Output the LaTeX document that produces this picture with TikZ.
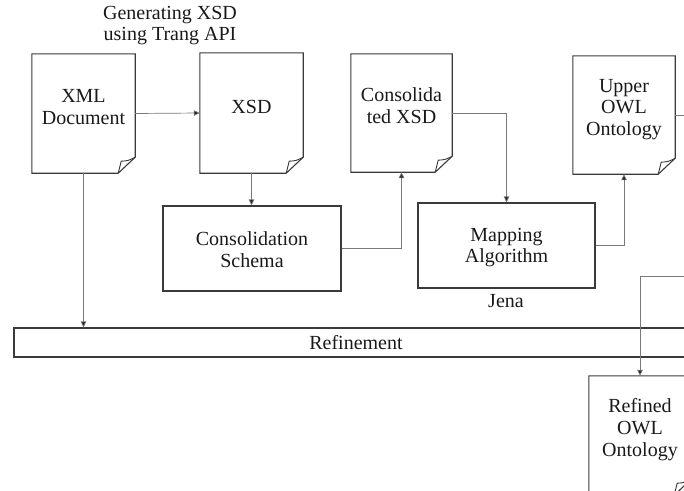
\documentclass[tikz,border=0pt]{standalone}
\usepackage{fontspec}
\setmainfont{Liberation Serif}
\usetikzlibrary{arrows.meta,calc}
\definecolor{boxc}{HTML}{3A3A3A}
\definecolor{linec}{HTML}{7A7A7A}
\newcommand{\docpage}[1]{%
  \draw[boxc,line width=1.1pt,line join=miter]
    (#1.north west) -- (#1.north east) -- ($(#1.south east)+(0,-16)$)
    -- ($(#1.south east)+(-17,0)$) -- (#1.south west) -- cycle;
  \draw[boxc,line width=0.9pt]
    ($(#1.south east)+(-17,0)$) .. controls ($(#1.south east)+(-16,-6)$) .. ($(#1.south east)+(-14,-12)$)
    .. controls ($(#1.south east)+(-7,-12.5)$) .. ($(#1.south east)+(0,-16)$);
}
\begin{document}
\begin{tikzpicture}[x=1pt,y=-1pt,
  docn/.style={rectangle,draw=none,inner sep=0pt,minimum width=#1},
  box/.style={rectangle,draw=boxc,line width=1.1pt,inner sep=0pt},
  txt/.style={font=\fontsize{20}{21.8}\selectfont,align=center,inner sep=0pt,text=black!90},
  arr/.style={draw=linec,line width=0.7pt,-{Triangle[width=5.5pt,length=6pt,fill=black!85]}},
  conn/.style={draw=linec,line width=0.7pt}]
\useasboundingbox (0,0) rectangle (684,490);

% document shapes
\node[docn=103pt,minimum height=119pt] (xml) at (83.5,113.5) {};
\node[docn=103pt,minimum height=120pt] (xsd) at (251.5,113) {};
\node[docn=101pt,minimum height=118pt] (consx) at (401.5,113) {};
\node[docn=102pt,minimum height=118pt] (upper) at (624,115) {};
\node[docn=102pt,minimum height=119pt] (refd) at (640,435.5) {};
\docpage{xml}
\docpage{xsd}
\docpage{consx}
\docpage{upper}
\docpage{refd}

% texts in documents
\node[txt] (xmlt) at (83.5,107) {XML\\Document};
\node[txt] (xsdt) at (251.5,107) {XSD};
\node[txt] (consxt) at (401.5,106) {Consolida\\ted XSD};
\node[txt] (uppert) at (624,109.5) {Upper\\OWL\\Ontology};
\node[txt] (refdt) at (640,429.5) {Refined\\OWL\\Ontology};

% boxes
\node[box,minimum width=178pt,minimum height=85pt] (cons) at (252,248.5) {};
\node[txt] (const) at (252,249.5) {Consolidation\\Schema};
\node[box,minimum width=177pt,minimum height=85pt] (map) at (506.5,245.5) {};
\node[txt] (mapt) at (506.5,247.5) {Mapping\\Algorithm};
\node[box,minimum width=684pt,minimum height=29pt] (ref) at (356,342.5) {};
\node[txt] (reft) at (356,343) {Refinement};

% labels
\node[txt] (gen) at (170,25.5) {Generating XSD\\using Trang API};
\node[txt] (jena) at (506,301) {Jena};

% free ends
\coordinate (outU) at (695,115);
\coordinate (inR) at (695,276);

% connectors
\draw[arr] (xml.east) -- (xsd.west);
\draw[arr] (xsd.south) -- (xsd.south |- cons.north);
\draw[arr] (cons.east) -| (consx.south);
\draw[arr] (consx.east) -| (map.north);
\draw[arr] (map.east) -| (upper.south);
\draw[conn] (upper.east) -- (outU);
\draw[arr] (xml.south) -- (xml.south |- ref.north);
\draw[arr] (inR) -| (refd.north);
\end{tikzpicture}
\end{document}
